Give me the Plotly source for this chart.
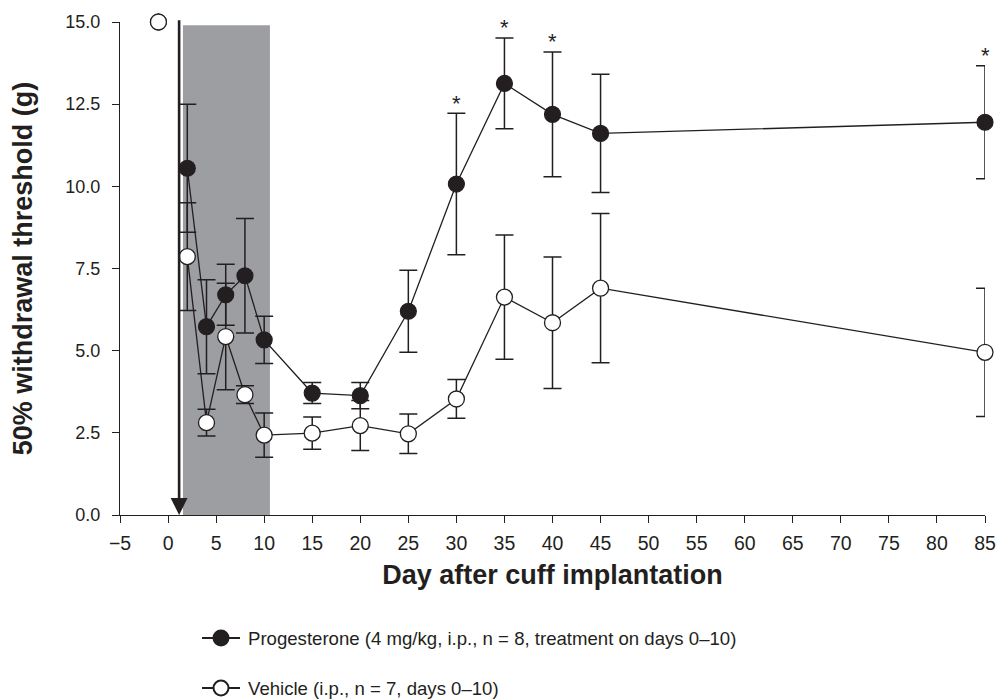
import plotly.graph_objects as go

# ---- data ----
days = [2, 4, 6, 8, 10, 15, 20, 25, 30, 35, 40, 45, 85]
prog_mean = [10.55, 5.73, 6.70, 7.28, 5.33, 3.71, 3.63, 6.20, 10.07, 13.13, 12.19, 11.61, 11.95]
prog_err = [1.95, 1.43, 0.93, 1.74, 0.72, 0.32, 0.40, 1.25, 2.15, 1.38, 1.90, 1.80, 1.72]
veh_mean = [7.86, 2.81, 5.43, 3.66, 2.43, 2.49, 2.72, 2.47, 3.53, 6.63, 5.85, 6.90, 4.95]
veh_err = [1.64, 0.41, 1.62, 0.27, 0.67, 0.49, 0.76, 0.60, 0.59, 1.89, 2.00, 2.27, 1.95]
baseline_day = [-1]
prog_baseline = [15.0]
veh_baseline = [15.0]
sig_days = [30, 35, 40, 85]
arrow_day = 1.15
shade_days = [1.55, 10.6]
shade_top = 14.9
y_ticks = [0, 2.5, 5, 7.5, 10, 12.5, 15]
x_ticks = list(range(-5, 90, 5))
prog_label = "Progesterone (4 mg/kg, i.p., n = 8, treatment on days 0–10)"
veh_label = "Vehicle (i.p., n = 7, days 0–10)"

FONT = "Liberation Sans, Arial, Helvetica, sans-serif"
INK = "#231f20"
Y_MAX = 15

W, H = 999, 700
ML, MR, MT, MB = 120, 14, 22, 185
PW, PH = W - ML - MR, H - MT - MB


def px(xs):
    """screen x -> paper x"""
    return (xs - ML) / PW


def py(ys):
    """screen y -> paper y"""
    return (H - MB - ys) / PH


fig = go.Figure()

fig.add_shape(type="rect", xref="x", yref="y", x0=shade_days[0], x1=shade_days[1],
              y0=0, y1=shade_top, fillcolor="#9d9ea2", line_width=0, layer="below")

err_style = dict(type="data", visible=True, color=INK, thickness=1.5, width=9)

fig.add_trace(go.Scatter(
    x=days, y=prog_mean, mode="lines+markers", name=prog_label, showlegend=False,
    line=dict(color=INK, width=1.3),
    marker=dict(size=16, color=INK, line=dict(color=INK, width=1.2)),
    error_y=dict(array=prog_err, **err_style),
    cliponaxis=False,
))
fig.add_trace(go.Scatter(
    x=days, y=veh_mean, mode="lines+markers", name=veh_label, showlegend=False,
    line=dict(color=INK, width=1.3),
    marker=dict(size=16, color="white", line=dict(color=INK, width=1.3)),
    error_y=dict(array=veh_err, **err_style),
    cliponaxis=False,
))
fig.add_trace(go.Scatter(
    x=baseline_day, y=prog_baseline, mode="markers", showlegend=False,
    marker=dict(size=16, color=INK, line=dict(color=INK, width=1.2)), cliponaxis=False))
fig.add_trace(go.Scatter(
    x=baseline_day, y=veh_baseline, mode="markers", showlegend=False,
    marker=dict(size=16, color="white", line=dict(color=INK, width=1.3)), cliponaxis=False))

# treatment arrow
fig.add_annotation(x=arrow_day, y=0, ax=arrow_day, ay=15.1, xref="x", yref="y",
                   axref="x", ayref="y", showarrow=True, arrowhead=2, arrowsize=1.3,
                   arrowwidth=2.6, arrowcolor=INK, text="")

# significance asterisks (y in paper units so marks above the range stay visible)
for d in sig_days:
    i = days.index(d)
    fig.add_annotation(x=d, y=(prog_mean[i] + prog_err[i] + 0.75) / Y_MAX,
                       xref="x", yref="paper",
                       text="*", showarrow=False, font=dict(size=22, family=FONT, color=INK))

# manual legend
for row_y, fill, label in [(638, INK, prog_label), (688, "white", veh_label)]:
    fig.add_shape(type="line", xref="paper", yref="paper",
                  x0=px(202), x1=px(240), y0=py(row_y), y1=py(row_y),
                  line=dict(color=INK, width=2.2))
    r = 7.5
    fig.add_shape(type="circle", xref="paper", yref="paper",
                  x0=px(221 - r), x1=px(221 + r), y0=py(row_y + r), y1=py(row_y - r),
                  fillcolor=fill, line=dict(color=INK, width=2))
    fig.add_annotation(x=px(246), y=py(row_y), xref="paper", yref="paper",
                       xanchor="left", yanchor="middle", showarrow=False, text=label,
                       font=dict(size=18.6, family=FONT, color=INK))

fig.update_xaxes(range=[-5, 85], tickvals=x_ticks, ticks="outside",
                 ticklen=7, tickcolor=INK, tickwidth=1.2, showline=True, linecolor=INK,
                 linewidth=1.3, zeroline=False, showgrid=False, automargin=False,
                 ticklabelstandoff=3,
                 tickfont=dict(size=19.5, family=FONT, color=INK),
                 title=dict(text="<b>Day after cuff implantation</b>", standoff=12,
                            font=dict(size=27, family=FONT, color=INK)))
fig.update_yaxes(range=[0, Y_MAX], tickvals=y_ticks, tickformat=".1f",
                 ticks="outside", ticklen=7, tickcolor=INK, tickwidth=1.2, showline=True,
                 linecolor=INK, linewidth=1.3, zeroline=False, showgrid=False, automargin=False,
                 ticklabelstandoff=8,
                 tickfont=dict(size=18, family=FONT, color=INK),
                 title=dict(text="<b>50% withdrawal threshold (g)</b>", standoff=24,
                            font=dict(size=27, family=FONT, color=INK)))

fig.update_layout(
    width=W, height=H,
    margin=dict(l=ML, r=MR, t=MT, b=MB),
    plot_bgcolor="white", paper_bgcolor="white",
    font=dict(family=FONT, color=INK),
    showlegend=False,
)

fig.write_html("out.html", config={"displayModeBar": False},
               post_script="document.body.style.margin='0';document.body.style.overflow='hidden';")
